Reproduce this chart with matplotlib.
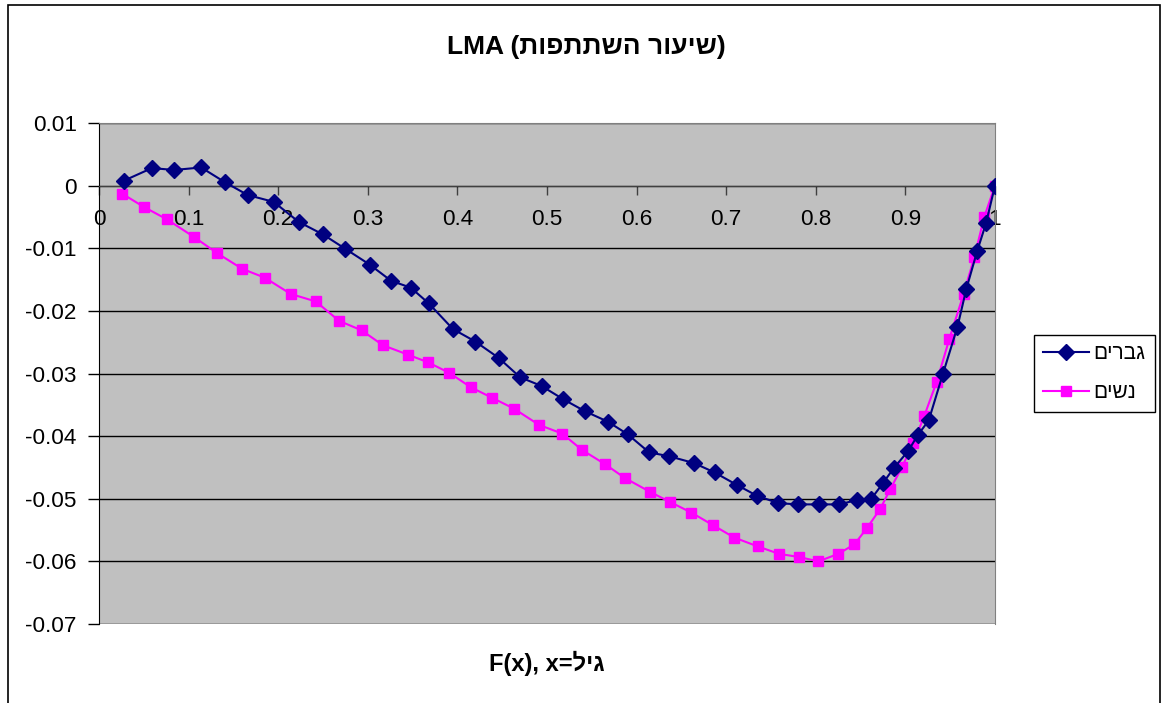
import re
import matplotlib
matplotlib.use("Agg")
import matplotlib.pyplot as plt
from matplotlib.patches import Rectangle

plt.rcParams['font.family'] = ['Liberation Sans', 'DejaVu Sans']
plt.rcParams['axes.unicode_minus'] = False

# Texts (logical order)
title_text = "LMA (שיעור השתתפות)"
xlabel_text = "F(x), x=גיל"
series_names = ["גברים", "נשים"]

# Men
men_x = [0.028, 0.059, 0.084, 0.114, 0.141, 0.166, 0.195, 0.223, 0.250, 0.275,
         0.302, 0.326, 0.348, 0.368, 0.395, 0.420, 0.446, 0.470, 0.494, 0.518,
         0.542, 0.568, 0.590, 0.614, 0.636, 0.664, 0.687, 0.712, 0.734, 0.758,
         0.780, 0.804, 0.826, 0.846, 0.862, 0.875, 0.887, 0.903, 0.914, 0.926,
         0.942, 0.958, 0.968, 0.980, 0.990, 1.000]
men_y = [0.0008, 0.0028, 0.0025, 0.0029, 0.0005, -0.0015, -0.0026, -0.0058, -0.0078, -0.0101,
         -0.0126, -0.0152, -0.0163, -0.0188, -0.0229, -0.0249, -0.0275, -0.0306, -0.0320, -0.0341,
         -0.0360, -0.0377, -0.0397, -0.0426, -0.0432, -0.0443, -0.0458, -0.0478, -0.0495, -0.0507,
         -0.0509, -0.0509, -0.0509, -0.0502, -0.0500, -0.0475, -0.0451, -0.0424, -0.0398, -0.0375,
         -0.0300, -0.0226, -0.0165, -0.0105, -0.0060, 0.0000]

# Women
women_x = [0.026, 0.050, 0.076, 0.106, 0.132, 0.160, 0.185, 0.214, 0.242, 0.268,
           0.293, 0.317, 0.345, 0.367, 0.391, 0.415, 0.439, 0.463, 0.491, 0.517,
           0.539, 0.565, 0.587, 0.615, 0.637, 0.661, 0.685, 0.709, 0.735, 0.759,
           0.781, 0.803, 0.825, 0.843, 0.857, 0.872, 0.883, 0.896, 0.909, 0.921,
           0.935, 0.949, 0.965, 0.977, 0.988, 1.000]
women_y = [-0.0013, -0.0034, -0.0054, -0.0082, -0.0108, -0.0133, -0.0147, -0.0173, -0.0185, -0.0216,
           -0.0231, -0.0255, -0.0270, -0.0282, -0.0299, -0.0322, -0.0339, -0.0356, -0.0382, -0.0396,
           -0.0422, -0.0445, -0.0467, -0.0489, -0.0505, -0.0522, -0.0542, -0.0562, -0.0576, -0.0588,
           -0.0593, -0.0600, -0.0588, -0.0573, -0.0547, -0.0516, -0.0485, -0.0450, -0.0411, -0.0368,
           -0.0313, -0.0245, -0.0173, -0.0114, -0.0050, 0.0000]

x_ticks = [0, 0.1, 0.2, 0.3, 0.4, 0.5, 0.6, 0.7, 0.8, 0.9, 1.0]
x_tick_labels = ["0", "0.1", "0.2", "0.3", "0.4", "0.5", "0.6", "0.7", "0.8", "0.9", "1"]
y_ticks = [0.01, 0, -0.01, -0.02, -0.03, -0.04, -0.05, -0.06, -0.07]
y_tick_labels = ["0.01", "0", "-0.01", "-0.02", "-0.03", "-0.04", "-0.05", "-0.06", "-0.07"]

MEN_COLOR = "#000080"
WOMEN_COLOR = "#FF00FF"


def visual(s):
    """Lay out Hebrew runs right-to-left for a left-to-right text renderer."""
    return re.sub(r'[\u0590-\u05FF]+(?: [\u0590-\u05FF]+)*',
                  lambda m: m.group(0)[::-1], s)


W, H = 1163, 703
fig = plt.figure(figsize=(W / 100, H / 100), dpi=100)
fig.patch.set_facecolor("white")

left, right, top, bottom = 99, 995, 123, 624
ax = fig.add_axes([left / W, 1 - bottom / H, (right - left) / W, (bottom - top) / H])
ax.set_facecolor("#C0C0C0")

ax.plot(men_x, men_y, color=MEN_COLOR, lw=1.5, marker="D", ms=8,
        mfc=MEN_COLOR, mec=MEN_COLOR, label=visual(series_names[0]), zorder=4)
ax.plot(women_x, women_y, color=WOMEN_COLOR, lw=1.5, marker="s", ms=7.4,
        mfc=WOMEN_COLOR, mec=WOMEN_COLOR, label=visual(series_names[1]), zorder=3)

ax.set_xlim(0, 1)
ax.set_ylim(-0.07, 0.01)
ax.set_xticks(x_ticks, x_tick_labels)
ax.set_yticks(y_ticks, y_tick_labels)

ax.yaxis.grid(True, color="black", lw=1)
ax.spines["bottom"].set_position(("data", 0))
ax.spines["bottom"].set_color("#404040")
ax.spines["left"].set_color("black")
ax.spines["top"].set_color("#808080")
ax.spines["right"].set_color("#808080")
ax.tick_params(axis="x", direction="out", length=6.5, width=1, pad=10,
               labelsize=16.2, color="#404040")
ax.tick_params(axis="y", direction="out", length=8, width=1, pad=8,
               labelsize=16.2)

fig.text(586 / W, 1 - 47 / H, visual(title_text), ha="center", va="center",
         fontsize=19, fontweight="bold")
fig.text(547 / W, 1 - 663 / H, visual(xlabel_text), ha="center", va="center",
         fontsize=17, fontweight="bold")

leg = fig.legend(loc="upper left", bbox_to_anchor=(1034 / W, 1 - 335 / H),
                 fontsize=15, handlelength=2.2, handletextpad=0.2,
                 borderpad=0.45, labelspacing=0.95, fancybox=False,
                 framealpha=1, edgecolor="black", borderaxespad=0)
leg.get_frame().set_linewidth(1)

fig.add_artist(Rectangle((8 / W, -0.05), (1160 - 8) / W, 1.05 - 5 / H,
                         transform=fig.transFigure, fill=False,
                         edgecolor="black", lw=1.2))

fig.savefig("out.png", dpi=100)
